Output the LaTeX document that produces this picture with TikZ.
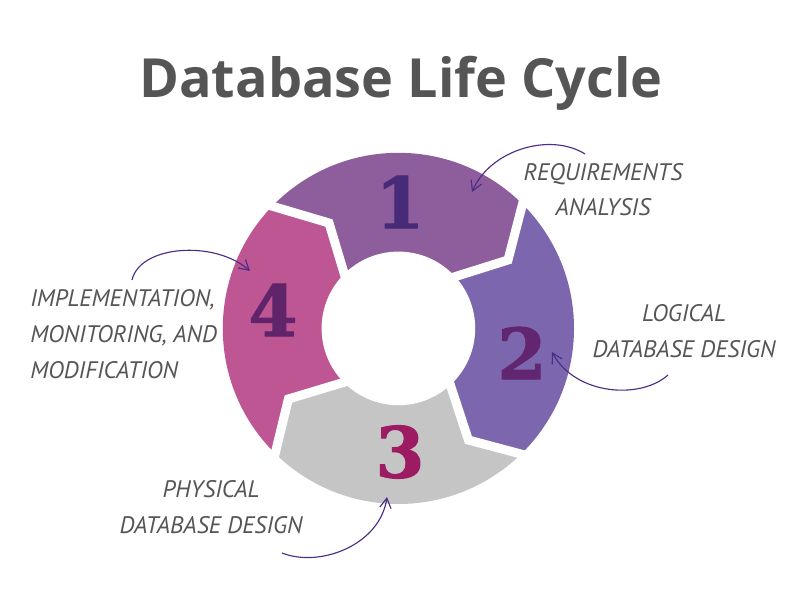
\documentclass[tikz,border=0pt]{standalone}
\usepackage{fontspec}
\usepackage{tikz}
\usetikzlibrary{arrows.meta,positioning,calc}
\newfontfamily\titlefont{Open Sans}
\newfontfamily\notefont{PT Sans}
\newfontfamily\numfont{DejaVu Serif}[BoldFeatures={FakeBold=1.5}]
\definecolor{inkgray}{HTML}{555555}
\definecolor{arrowink}{HTML}{4B2D85}
\definecolor{segone}{HTML}{8E5D9B}
\definecolor{segtwo}{HTML}{7C67AE}
\definecolor{segthree}{HTML}{C5C5C5}
\definecolor{segfour}{HTML}{BE5694}
\definecolor{numone}{HTML}{472B78}
\definecolor{numtwo}{HTML}{622570}
\definecolor{numthree}{HTML}{9C1B63}
\definecolor{numfour}{HTML}{5F2469}

\begin{document}
\begin{tikzpicture}[
    >={Straight Barb[length=7pt,width=8pt]},
    num/.style={
		font=\numfont\bfseries\fontsize{50}{50}\selectfont,
		inner sep=0pt
	},
	note/.style={
		font=\notefont\itshape\fontsize{17}{25.6}\selectfont,
		text=inkgray,
		inner sep=0pt
	},
	gap/.style={
		draw=white,
		line width=0.225cm,
		line join=miter
	},
	pointer/.style={
		draw=arrowink,
		line width=0.8pt,
		->
	}
  ]
  \useasboundingbox (0,0) rectangle (20,15);
  \fill[white] (0,0) rectangle (20,15);

  % We start by placing the corners of the ring
  \coordinate (centre) at (9.96,6.79);
  \coordinate (b12o) at (13.04,9.81);
  \coordinate (b12k) at (12.7,8.5);
  \coordinate (b12i) at (11.35,8.075);
  \coordinate (b23o) at (13.06,3.64);
  \coordinate (b23k) at (11.71,4.0);
  \coordinate (b23i) at (11.275,5.325);
  \coordinate (b34o) at (6.9,3.75);
  \coordinate (b34k) at (7.21,5.025);
  \coordinate (b34i) at (8.54,5.425);
  \coordinate (b41o) at (6.875,9.825);
  \coordinate (b41k) at (8.225,9.425);
  \coordinate (b41i) at (8.6,8.175);
  \foreach \b in {12,23,34,41}{
    \coordinate (f\b) at ($(b\b k)!3!(b\b o)$);
    \coordinate (g\b) at ($(b\b k)!1.4!(b\b i)$);
  }

  \begin{scope}
    \clip (centre) circle (4.39);
    \fill[segone] (f41) -- (b41k) -- (g41) -- (centre) -- (g12) -- (b12k) -- (f12) -- (10,16) -- cycle;
    \fill[segtwo] (f12) -- (b12k) -- (g12) -- (centre) -- (g23) -- (b23k) -- (f23) -- (17.5,7) -- cycle;
    \fill[segthree] (f23) -- (b23k) -- (g23) -- (centre) -- (g34) -- (b34k) -- (f34) -- (10,-2) -- cycle;
    \fill[segfour] (f34) -- (b34k) -- (g34) -- (centre) -- (g41) -- (b41k) -- (f41) -- (2.5,6) -- cycle;
  \end{scope}
  \fill[white] (centre) circle (1.92);
  \foreach \b in {12,23,34,41}{
    \draw[gap] ($(b\b k)!1.5!(b\b o)$) -- (b\b k) -- (g\b);
  }

  \node[font=\titlefont\bfseries\fontsize{38.4}{40}\selectfont, text=inkgray, anchor=base] (title) at (10.025,12.55) {Database Life Cycle};

  \node[num, text=numone] (n1) at (10,9.95) {1};
  \node[num, text=numtwo] (n2) at (13.05,6.175) {2};
  \node[num, text=numthree] (n3) at (10,3.7) {3};
  \node[num, text=numfour] (n4) at (6.825,7.25) {4};

  \node[note, align=center, anchor=base] (req) at (15.075,9.6) {REQUIREMENTS\\ANALYSIS};
  \node[note, align=center, anchor=base] (logical) at (17.1,6.075) {LOGICAL\\DATABASE DESIGN};
  \node[note, align=left, anchor=base west] (impl) at (0.75,5.55) {IMPLEMENTATION,\\MONITORING, AND\\MODIFICATION};
  \node[note, align=center, anchor=base] (phys) at (5.275,1.675) {PHYSICAL\\DATABASE DESIGN};

  \coordinate (tail1) at (14.625,11.15);
  \coordinate (head1) at (11.8,10.2);
  \coordinate (tail2) at (16.7,5.625);
  \coordinate (head2) at (13.8,6.2);
  \coordinate (tail3) at (7.05,1.175);
  \coordinate (head3) at (9.675,2.575);
  \coordinate (tail4) at (3.3,8.0);
  \coordinate (head4) at (6.25,8.225);

  \draw [pointer] (tail1) .. controls (13.75,11.7) and (12.25,11.25) .. (head1);
  \draw [pointer] (tail2) .. controls (16.0,5.0) and (14.375,5.125) .. (head2);
  \draw [pointer] (tail3) .. controls (8.0,0.8) and (9.5,1.375) .. (head3);
  \draw [pointer] (tail4) .. controls (3.5,8.875) and (5.375,9.0) .. (head4);

\end{tikzpicture}
\end{document}
